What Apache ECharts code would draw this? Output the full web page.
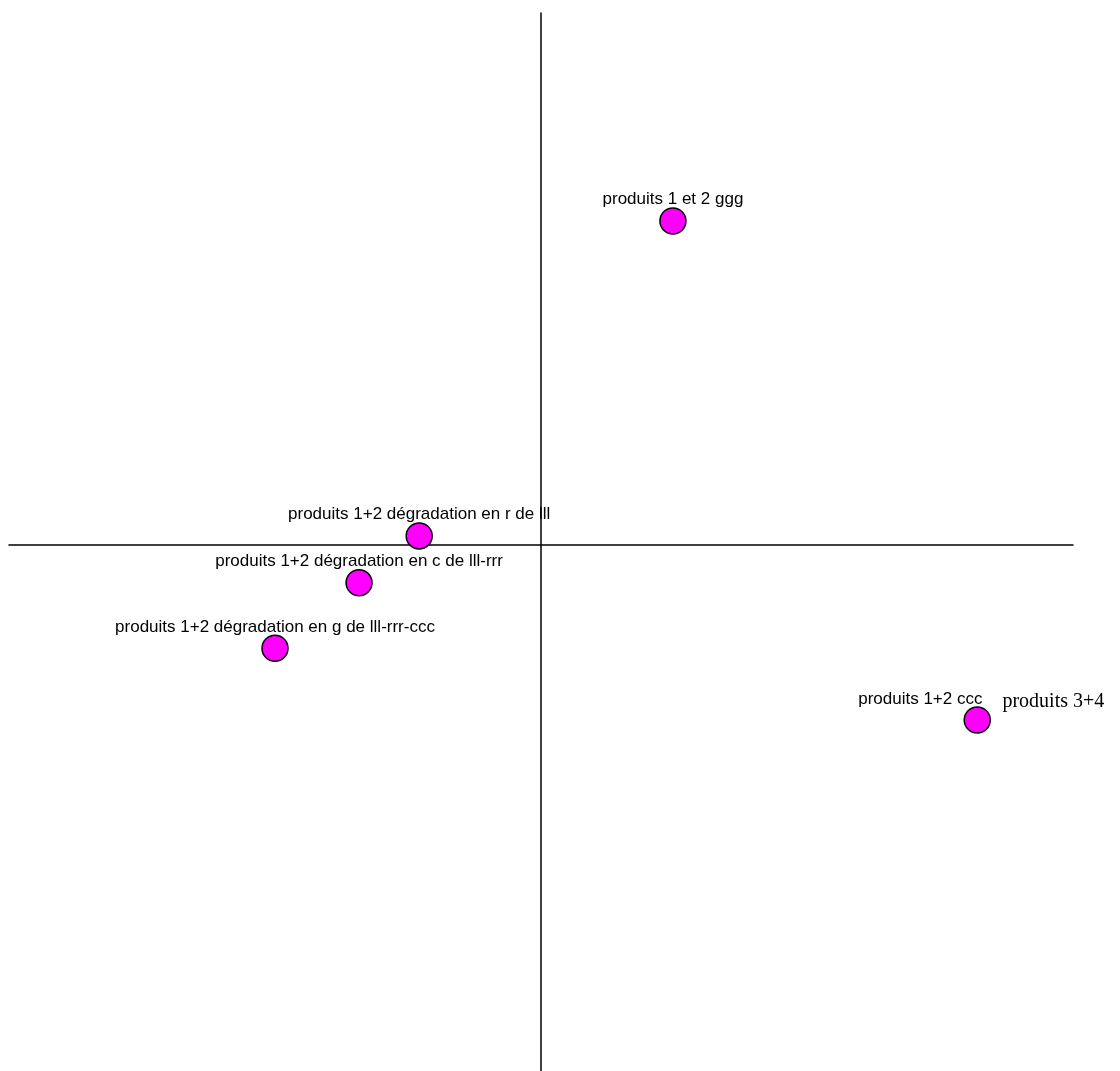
<!DOCTYPE html>
<html>
<head>
<meta charset="utf-8">
<script src="https://cdn.jsdelivr.net/npm/echarts@6/dist/echarts.min.js"></script>
<style>
  html, body { margin: 0; padding: 0; background: #fff; }
  #chart { width: 1120px; height: 1071px; }
</style>
</head>
<body>
<div id="chart"></div>
<script>
// point names, with coordinates (axis units, origin at the cross)
let names = [
  'produits 1 et 2 ggg',
  'produits 1+2 dégradation en r de lll',
  'produits 1+2 dégradation en c de lll-rrr',
  'produits 1+2 dégradation en g de lll-rrr-ccc',
  'produits 1+2 ccc'
]
let xValues = [0.248, -0.229, -0.342, -0.5, 0.82]
let yValues = [0.609, 0.017, -0.071, -0.194, -0.329]
let extraLabel = 'produits 3+4'

let chart = echarts.init(document.getElementById('chart'))

let pointData = names.map((name, i) => {
  let item = { name: name, value: [xValues[i], yValues[i]] }
  if (i === names.length - 1) {
    // last point carries the second, serif text beside its label
    item.label = {
      offset: [4, 8],
      formatter: '{a|' + name + '}{b|' + extraLabel + '}',
    }
  }
  return item
})

let option = {
  animation: false,
  grid: {
    left: 9,
    right: 47,
    top: 13,
    bottom: 0,
  },
  xAxis: {
    type: 'value',
    min: -1,
    max: 1,
    axisLine: { onZero: true, lineStyle: { color: '#000', width: 1.5 } },
    axisTick: { show: false },
    axisLabel: { show: false },
    splitLine: { show: false },
  },
  yAxis: {
    type: 'value',
    min: -0.9887,
    max: 1,
    axisLine: { onZero: true, lineStyle: { color: '#000', width: 1.5 } },
    axisTick: { show: false },
    axisLabel: { show: false },
    splitLine: { show: false },
  },
  series: [
    {
      type: 'scatter',
      symbolSize: 26,
      itemStyle: {
        color: '#ff00ff',
        borderColor: '#000',
        borderWidth: 1.5,
        opacity: 1,
      },
      label: {
        show: true,
        position: 'top',
        distance: 3,
        offset: [0, 4],
        color: '#000',
        fontFamily: 'Liberation Sans, Arial, sans-serif',
        fontSize: 17,
        formatter: (p) => p.name,
        rich: {
          a: {
            fontFamily: 'Liberation Sans, Arial, sans-serif',
            fontSize: 17,
            color: '#000',
            padding: [0, 20, 0, 0],
          },
          b: {
            fontFamily: 'Liberation Serif, Times New Roman, serif',
            fontSize: 20,
            color: '#000',
            padding: [4, 0, 0, 0],
          },
        },
      },
      data: pointData,
    },
  ],
}

chart.setOption(option)
</script>
</body>
</html>
